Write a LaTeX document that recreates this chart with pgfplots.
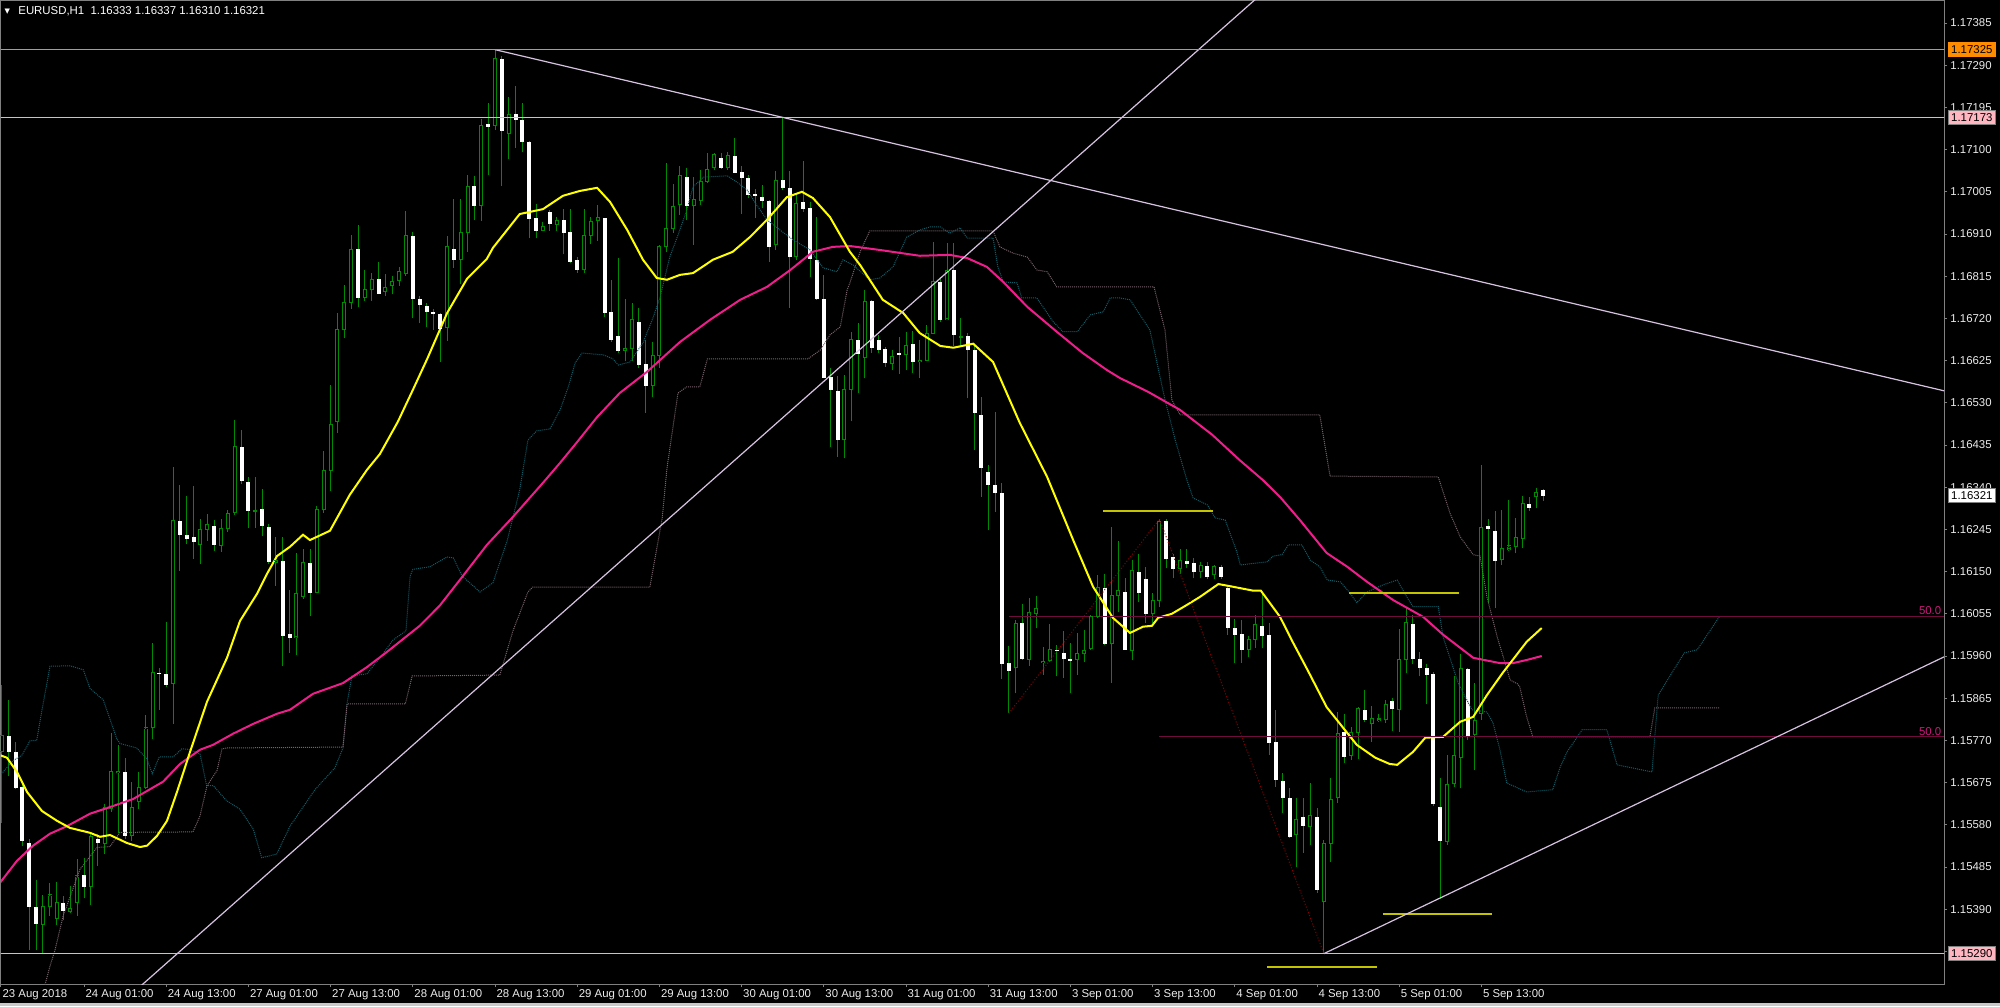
\documentclass[border=0pt]{standalone}
\usepackage{pgfplots}
\pgfplotsset{compat=1.18}
\usepackage{pgfplotstable}
\usepackage{fontspec}
\setmainfont{Liberation Sans}
\newfontfamily\symfont{DejaVu Sans}
\setlength{\fboxsep}{1.2pt}
\setlength{\fboxrule}{0.4pt}
\definecolor{framegray}{RGB}{128,128,128}
\definecolor{ticktext}{RGB}{235,235,235}
\definecolor{cgreen}{RGB}{0,140,0}
\definecolor{mayellow}{RGB}{255,255,0}
\definecolor{mamagenta}{RGB}{240,30,140}
\definecolor{tealdot}{RGB}{15,95,105}
\definecolor{graydot}{RGB}{120,98,108}
\definecolor{fibline}{RGB}{110,12,62}
\definecolor{fibdiag}{RGB}{135,0,0}
\definecolor{fiblabel}{RGB}{205,25,125}
\definecolor{trend}{RGB}{215,195,225}
\definecolor{orangeL}{RGB}{255,140,0}
\definecolor{pinkL}{RGB}{255,182,193}
\definecolor{pinkline}{RGB}{230,180,200}
\definecolor{shorty}{RGB}{195,195,0}
\definecolor{bottomgray}{RGB}{200,200,200}

\pgfplotstableread{
k O H L C d
0 1.15744 1.15895 1.15584 1.15782 1
1 1.15780 1.15861 1.15690 1.15746 0
2 1.15746 1.15767 1.15661 1.15665 0
3 1.15665 1.15677 1.15533 1.15544 0
4 1.15541 1.15548 1.15298 1.15397 0
5 1.15397 1.15456 1.15298 1.15357 0
6 1.15355 1.15422 1.15292 1.15397 1
7 1.15397 1.15449 1.15375 1.15422 1
8 1.15370 1.15451 1.15355 1.15406 1
9 1.15406 1.15420 1.15366 1.15386 0
10 1.15384 1.15442 1.15382 1.15391 1
11 1.15406 1.15503 1.15375 1.15465 1
12 1.15467 1.15505 1.15415 1.15442 0
13 1.15442 1.15559 1.15400 1.15553 1
14 1.15550 1.15559 1.15487 1.15541 0
15 1.15539 1.15627 1.15514 1.15620 1
16 1.15616 1.15787 1.15609 1.15699 1
17 1.15699 1.15760 1.15562 1.15701 1
18 1.15701 1.15731 1.15548 1.15557 0
19 1.15555 1.15677 1.15544 1.15620 1
20 1.15632 1.15699 1.15616 1.15665 1
21 1.15665 1.15827 1.15661 1.15798 1
22 1.15798 1.15990 1.15773 1.15922 1
23 1.15922 1.15933 1.15839 1.15920 0
24 1.15920 1.16037 1.15890 1.15895 0
25 1.15897 1.16386 1.15807 1.16266 1
26 1.16266 1.16345 1.16152 1.16235 0
27 1.16233 1.16320 1.16212 1.16224 0
28 1.16228 1.16343 1.16179 1.16217 0
29 1.16212 1.16269 1.16167 1.16244 1
30 1.16244 1.16280 1.16219 1.16255 1
31 1.16255 1.16266 1.16197 1.16212 0
32 1.16208 1.16269 1.16194 1.16248 1
33 1.16248 1.16289 1.16239 1.16280 1
34 1.16282 1.16492 1.16278 1.16431 1
35 1.16431 1.16469 1.16347 1.16354 0
36 1.16352 1.16363 1.16248 1.16288 0
37 1.16286 1.16363 1.16248 1.16288 1
38 1.16291 1.16336 1.16230 1.16253 0
39 1.16253 1.16257 1.16167 1.16174 0
40 1.16170 1.16228 1.16118 1.16174 1
41 1.16176 1.16228 1.15938 1.16007 0
42 1.16012 1.16109 1.15967 1.16003 0
43 1.16003 1.16191 1.15962 1.16100 1
44 1.16094 1.16201 1.16088 1.16171 1
45 1.16171 1.16201 1.16050 1.16104 0
46 1.16102 1.16298 1.16102 1.16290 1
47 1.16290 1.16421 1.16283 1.16377 1
48 1.16377 1.16571 1.16331 1.16482 1
49 1.16489 1.16732 1.16462 1.16694 1
50 1.16694 1.16795 1.16676 1.16755 1
51 1.16755 1.16907 1.16742 1.16874 1
52 1.16876 1.16930 1.16745 1.16767 0
53 1.16767 1.16828 1.16760 1.16785 1
54 1.16786 1.16823 1.16759 1.16808 1
55 1.16810 1.16846 1.16774 1.16776 0
56 1.16781 1.16821 1.16770 1.16790 1
57 1.16795 1.16815 1.16774 1.16803 1
58 1.16806 1.16836 1.16793 1.16825 1
59 1.16821 1.16961 1.16815 1.16907 1
60 1.16907 1.16915 1.16721 1.16765 0
61 1.16765 1.16770 1.16709 1.16752 0
62 1.16750 1.16754 1.16701 1.16736 0
63 1.16735 1.16742 1.16694 1.16733 0
64 1.16731 1.16733 1.16622 1.16698 0
65 1.16699 1.16905 1.16670 1.16882 1
66 1.16877 1.16989 1.16834 1.16854 0
67 1.16852 1.16989 1.16798 1.16913 1
68 1.16914 1.17042 1.16869 1.17017 1
69 1.17019 1.17040 1.16941 1.16974 0
70 1.16974 1.17170 1.16939 1.17155 1
71 1.17158 1.17204 1.17043 1.17152 0
72 1.17155 1.17325 1.17144 1.17306 1
73 1.17305 1.17310 1.17019 1.17142 0
74 1.17136 1.17218 1.17078 1.17180 1
75 1.17180 1.17244 1.17104 1.17168 0
76 1.17168 1.17206 1.17094 1.17119 0
77 1.17118 1.17120 1.16900 1.16944 0
78 1.16946 1.16978 1.16900 1.16917 0
79 1.16917 1.16938 1.16917 1.16927 1
80 1.16961 1.16964 1.16917 1.16934 0
81 1.16932 1.16948 1.16917 1.16941 1
82 1.16941 1.16966 1.16864 1.16913 0
83 1.16914 1.16966 1.16845 1.16849 0
84 1.16852 1.16859 1.16823 1.16831 0
85 1.16831 1.16966 1.16823 1.16906 1
86 1.16906 1.16949 1.16888 1.16938 1
87 1.16940 1.16975 1.16895 1.16947 1
88 1.16946 1.16946 1.16724 1.16734 0
89 1.16735 1.16807 1.16668 1.16672 0
90 1.16682 1.16855 1.16642 1.16649 0
91 1.16647 1.16764 1.16623 1.16653 1
92 1.16652 1.16754 1.16625 1.16718 1
93 1.16714 1.16743 1.16608 1.16617 0
94 1.16619 1.16672 1.16508 1.16570 0
95 1.16569 1.16666 1.16542 1.16636 1
96 1.16636 1.16886 1.16608 1.16882 1
97 1.16882 1.17069 1.16870 1.16923 1
98 1.16923 1.17023 1.16913 1.16973 1
99 1.16976 1.17062 1.16953 1.17041 1
100 1.17039 1.17058 1.16942 1.16974 0
101 1.16974 1.17038 1.16886 1.16988 1
102 1.16985 1.17054 1.16976 1.17028 1
103 1.17028 1.17092 1.17024 1.17056 1
104 1.17059 1.17092 1.17054 1.17088 1
105 1.17082 1.17093 1.17056 1.17059 0
106 1.17059 1.17094 1.17054 1.17086 1
107 1.17086 1.17127 1.17049 1.17049 0
108 1.17049 1.17062 1.16955 1.17038 0
109 1.17036 1.17043 1.16991 1.17000 0
110 1.17000 1.17011 1.16946 1.16996 0
111 1.16994 1.17021 1.16968 1.16985 0
112 1.16985 1.16987 1.16848 1.16882 0
113 1.16886 1.17051 1.16874 1.17030 1
114 1.17032 1.17174 1.17009 1.17014 0
115 1.17014 1.17051 1.16743 1.16859 0
116 1.16859 1.16998 1.16852 1.16979 1
117 1.16982 1.17075 1.16960 1.16968 0
118 1.16968 1.16983 1.16814 1.16855 0
119 1.16853 1.16949 1.16762 1.16765 0
120 1.16764 1.16818 1.16586 1.16588 0
121 1.16588 1.16608 1.16431 1.16559 0
122 1.16559 1.16590 1.16409 1.16448 0
123 1.16448 1.16593 1.16405 1.16561 1
124 1.16561 1.16690 1.16488 1.16672 1
125 1.16672 1.16709 1.16553 1.16640 0
126 1.16633 1.16783 1.16585 1.16758 1
127 1.16759 1.16762 1.16642 1.16655 0
128 1.16673 1.16683 1.16642 1.16651 0
129 1.16651 1.16656 1.16611 1.16620 0
130 1.16619 1.16649 1.16604 1.16634 1
131 1.16643 1.16678 1.16595 1.16638 0
132 1.16638 1.16690 1.16604 1.16658 1
133 1.16662 1.16692 1.16598 1.16624 0
134 1.16625 1.16672 1.16585 1.16626 1
135 1.16625 1.16705 1.16624 1.16687 1
136 1.16687 1.16893 1.16686 1.16804 1
137 1.16803 1.16814 1.16713 1.16718 0
138 1.16719 1.16889 1.16718 1.16828 1
139 1.16829 1.16889 1.16658 1.16683 0
140 1.16678 1.16720 1.16660 1.16679 1
141 1.16681 1.16688 1.16540 1.16651 0
142 1.16649 1.16664 1.16424 1.16509 0
143 1.16504 1.16544 1.16319 1.16384 0
144 1.16374 1.16390 1.16244 1.16345 0
145 1.16345 1.16509 1.16285 1.16328 0
146 1.16326 1.16350 1.15908 1.15944 0
147 1.15944 1.15983 1.15831 1.15927 0
148 1.15935 1.16040 1.15876 1.16034 1
149 1.16035 1.16077 1.15951 1.15954 0
150 1.15953 1.16090 1.15938 1.16058 1
151 1.16056 1.16095 1.16023 1.16068 1
152 1.15947 1.15980 1.15917 1.15948 1
153 1.15950 1.16032 1.15947 1.15975 1
154 1.15974 1.15985 1.15914 1.15973 0
155 1.15968 1.16017 1.15910 1.15955 0
156 1.15953 1.15990 1.15876 1.15952 0
157 1.15953 1.16011 1.15917 1.15965 1
158 1.15966 1.16019 1.15947 1.15972 1
159 1.15977 1.16052 1.15974 1.16049 1
160 1.16049 1.16143 1.16045 1.16114 1
161 1.16114 1.16144 1.15985 1.15990 0
162 1.15989 1.16251 1.15899 1.16097 1
163 1.16097 1.16218 1.16060 1.16107 1
164 1.16103 1.16135 1.15974 1.15975 0
165 1.15972 1.16176 1.15951 1.16152 1
166 1.16150 1.16190 1.16082 1.16103 0
167 1.16134 1.16160 1.16034 1.16056 0
168 1.16056 1.16101 1.16034 1.16085 1
169 1.16085 1.16268 1.16070 1.16263 1
170 1.16265 1.16268 1.16158 1.16180 0
171 1.16182 1.16190 1.16135 1.16158 0
172 1.16158 1.16200 1.16145 1.16176 1
173 1.16176 1.16200 1.16158 1.16169 0
174 1.16169 1.16180 1.16135 1.16150 0
175 1.16150 1.16172 1.16135 1.16163 1
176 1.16165 1.16172 1.16133 1.16140 0
177 1.16144 1.16165 1.16133 1.16161 1
178 1.16161 1.16165 1.16133 1.16140 0
179 1.16112 1.16120 1.16007 1.16024 0
180 1.16025 1.16043 1.15944 1.16009 0
181 1.16011 1.16041 1.15945 1.15974 0
182 1.15975 1.16004 1.15957 1.15998 1
183 1.15998 1.16052 1.15979 1.16030 1
184 1.16030 1.16101 1.15977 1.16007 0
185 1.16007 1.16034 1.15737 1.15766 0
186 1.15767 1.15839 1.15666 1.15683 0
187 1.15681 1.15697 1.15607 1.15642 0
188 1.15642 1.15662 1.15550 1.15553 0
189 1.15559 1.15640 1.15486 1.15593 1
190 1.15597 1.15640 1.15517 1.15578 0
191 1.15576 1.15674 1.15535 1.15601 1
192 1.15598 1.15617 1.15427 1.15435 0
193 1.15407 1.15545 1.15290 1.15539 1
194 1.15539 1.15685 1.15497 1.15638 1
195 1.15642 1.15835 1.15629 1.15786 1
196 1.15788 1.15830 1.15719 1.15734 0
197 1.15735 1.15801 1.15726 1.15788 1
198 1.15788 1.15846 1.15728 1.15842 1
199 1.15840 1.15884 1.15812 1.15818 0
200 1.15809 1.15848 1.15767 1.15819 1
201 1.15818 1.15830 1.15812 1.15819 1
202 1.15818 1.15861 1.15809 1.15850 1
203 1.15859 1.15865 1.15791 1.15842 0
204 1.15840 1.16020 1.15790 1.15953 1
205 1.15953 1.16070 1.15921 1.16036 1
206 1.16034 1.16052 1.15942 1.15954 0
207 1.15954 1.15968 1.15914 1.15935 0
208 1.15934 1.15942 1.15852 1.15919 0
209 1.15920 1.15923 1.15622 1.15629 0
210 1.15622 1.15685 1.15412 1.15544 0
211 1.15542 1.15737 1.15535 1.15671 1
212 1.15672 1.15914 1.15666 1.15737 1
213 1.15732 1.15965 1.15662 1.15931 1
214 1.15932 1.15934 1.15771 1.15780 0
215 1.15784 1.15900 1.15704 1.15815 1
216 1.15831 1.16390 1.15816 1.16250 1
217 1.16253 1.16268 1.16079 1.16246 0
218 1.16242 1.16287 1.16068 1.16175 0
219 1.16178 1.16289 1.16165 1.16203 1
220 1.16201 1.16311 1.16197 1.16208 1
221 1.16206 1.16270 1.16191 1.16226 1
222 1.16225 1.16320 1.16203 1.16304 1
223 1.16302 1.16317 1.16287 1.16295 0
224 1.16320 1.16339 1.16293 1.16328 1
225 1.16333 1.16337 1.16310 1.16321 0
}\candles

\begin{document}
\begin{tikzpicture}[font=\fontsize{5.7pt}{6.5pt}\selectfont]
\fill[black] (0,0) rectangle (1000pt,-503pt);
\fill[bottomgray] (0,-501.5pt) rectangle (1000pt,-503pt);
\path[use as bounding box] (0,0) rectangle (1000pt,-503pt);
\node[anchor=center, text=white, inner sep=0pt, font=\symfont\fontsize{3.5pt}{4pt}\selectfont] at (3.6pt,-5.6pt) {▼};
\node[anchor=west, text=white, inner sep=0pt] at (9pt,-5.6pt) {EURUSD,H1\ \ 1.16333 1.16337 1.16310 1.16321};
\begin{axis}[
  at={(0.5pt,-0.5pt)}, anchor=north west,
  scale only axis, width=971.5pt, height=491.5pt,
  xmin=-0.124, xmax=283.53, ymin=1.152216, ymax=1.1743455,
  axis line style={draw=framegray, line width=0.5pt},
  tick align=outside, major tick length=1.5pt,
  every tick/.style={draw=framegray, line width=0.5pt},
  xtick pos=left, ytick pos=right, yticklabel pos=right,
  scaled y ticks=false, scaled x ticks=false,
  ytick={1.15295,1.15390,1.15485,1.15580,1.15675,1.15770,1.15865,1.15960,1.16055,1.16150,1.16245,1.16340,1.16435,1.16530,1.16625,1.16720,1.16815,1.16910,1.17005,1.17100,1.17195,1.17290,1.17385},
  yticklabels={1.15295,1.15390,1.15485,1.15580,1.15675,1.15770,1.15865,1.15960,1.16055,1.16150,1.16245,1.16340,1.16435,1.16530,1.16625,1.16720,1.16815,1.16910,1.17005,1.17100,1.17195,1.17290,1.17385},
  xtick={-0.124,12,24,36,48,60,72,84,96,108,120,132,144,156,168,180,192,204,216},
  xticklabels={23 Aug 2018,24 Aug 01:00,24 Aug 13:00,27 Aug 01:00,27 Aug 13:00,28 Aug 01:00,28 Aug 13:00,29 Aug 01:00,29 Aug 13:00,30 Aug 01:00,30 Aug 13:00,31 Aug 01:00,31 Aug 13:00,3 Sep 01:00,3 Sep 13:00,4 Sep 01:00,4 Sep 13:00,5 Sep 01:00,5 Sep 13:00},
  xticklabel style={anchor=north west, inner sep=0pt, text=ticktext, xshift=0.6pt, yshift=-1.2pt},
  yticklabel style={anchor=west, inner sep=0pt, text=ticktext, xshift=1.5pt},
  extra y ticks={1.17325,1.17173,1.16321,1.15290},
  extra y tick labels={\fcolorbox{orangeL}{orangeL}{\textcolor{black}{1.17325}},\fcolorbox{framegray}{pinkL}{\textcolor{black}{1.17173}},\fcolorbox{framegray}{white}{\textcolor{black}{1.16321}},\fcolorbox{framegray}{pinkL}{\textcolor{black}{1.15290}}},
  extra y tick style={major tick length=0pt, yticklabel style={xshift=0.3pt}},
]
% wicks
\addplot[draw=none, mark=none, forget plot, error bars/.cd, y dir=plus, y explicit, error mark=none, error bar style={draw=cgreen, line width=0.5pt}]
  table[x=k, y=L, y error plus expr={\thisrow{H}-\thisrow{L}}] {\candles};
% bear bodies (white)
\addplot[draw=none, mark=none, forget plot, error bars/.cd, y dir=both, y explicit, error mark=none, error bar style={draw=white, line width=2pt}]
  table[x=k, y expr={(\thisrow{O}+\thisrow{C})/2}, y error expr={abs(\thisrow{C}-\thisrow{O})/2*(1-\thisrow{d})}] {\candles};
% bull bodies (green outline, black inside)
\addplot[draw=none, mark=none, forget plot, error bars/.cd, y dir=both, y explicit, error mark=none, error bar style={draw=cgreen, line width=2pt}]
  table[x=k, y expr={(\thisrow{O}+\thisrow{C})/2}, y error expr={abs(\thisrow{C}-\thisrow{O})/2*\thisrow{d}}] {\candles};
\addplot[draw=none, mark=none, forget plot, error bars/.cd, y dir=both, y explicit, error mark=none, error bar style={draw=black, line width=1pt}]
  table[x=k, y expr={(\thisrow{O}+\thisrow{C})/2}, y error expr={abs(\thisrow{C}-\thisrow{O})/2*\thisrow{d}}] {\candles};
\addplot[only marks, mark=-, mark size=1pt, mark options={draw=cgreen, line width=0.5pt}, forget plot, restrict y to domain=1:2]
  table[x=k, y expr={\thisrow{O}-10*(1-\thisrow{d})}] {\candles};
\addplot[only marks, mark=-, mark size=1pt, mark options={draw=cgreen, line width=0.5pt}, forget plot, restrict y to domain=1:2]
  table[x=k, y expr={\thisrow{C}-10*(1-\thisrow{d})}] {\candles};
\addplot[only marks, mark=-, mark size=1pt, mark options={draw=white, line width=0.5pt}, forget plot, restrict y to domain=1:2]
  table[x=k, y expr={\thisrow{C}-10*\thisrow{d}}] {\candles};

% Ichimoku spans
\addplot[tealdot, line width=0.5pt, dash pattern=on 0.5pt off 0.5pt, mark=none] coordinates {
(-0.27,1.15691) (1.67,1.15725) (2.9,1.15736) (4.11,1.15769) (5.09,1.15770) (5.82,1.15835) (7.03,1.15937) (9.95,1.15938) (11.89,1.15929) (12.87,1.15887) (14.81,1.15861) (16.77,1.15774) (17.25,1.15763) (19.69,1.15753) (21.15,1.15729) (21.96,1.15695) (22.99,1.15733) (25.03,1.15733) (26.26,1.15751) (27.22,1.15750) (28.93,1.15740) (29.9,1.15668) (30.87,1.15668) (32.83,1.15634) (34.77,1.15615) (36.71,1.15570) (37.93,1.15506) (40.12,1.15514) (42.07,1.15577) (45.7,1.15659) (48.6,1.15708) (49.8,1.15753) (50.4,1.15854) (51.1,1.15915) (53.3,1.15920) (55.2,1.15956) (57.1,1.15996) (59.0,1.16017) (59.6,1.16140) (60.0,1.16155) (62.5,1.16161) (65.0,1.16183) (65.9,1.16181) (67.2,1.16140) (69.8,1.16104) (71.7,1.16125) (73.8,1.16221) (75.6,1.16334) (76.8,1.16446) (78.1,1.16467) (80.0,1.16471) (81.5,1.16514) (82.7,1.16566) (83.7,1.16620) (84.7,1.16642) (87.8,1.16638) (89.2,1.16629) (90.0,1.16615) (91.7,1.16622) (93.6,1.16665) (95.1,1.16723) (96.1,1.16768) (97.5,1.16858) (98.6,1.16903) (100.0,1.16964) (100.9,1.17016) (102.4,1.17038) (105.9,1.17041) (107.3,1.17027) (108.8,1.17009) (110.2,1.16975) (111.7,1.16942) (113.6,1.16919) (115.5,1.16897) (118.0,1.16874) (119.9,1.16834) (121.9,1.16825) (122.8,1.16852) (124.3,1.16840) (126.7,1.16807) (128.2,1.16811) (130.1,1.16836) (132.1,1.16903) (134.0,1.16919) (135.5,1.16926) (137.0,1.16926) (138.4,1.16912) (139.9,1.16924) (140.9,1.16901) (144.7,1.16901) (145.4,1.16836) (146.2,1.16802) (148.2,1.16800) (148.9,1.16766) (151.1,1.16766) (153.5,1.16712) (154.9,1.16690) (157.0,1.16690) (158.9,1.16728) (160.8,1.16735) (161.8,1.16766) (163.2,1.16766) (164.7,1.16762) (167.6,1.16694) (169.8,1.16537) (171.3,1.16446) (173.0,1.16356) (173.9,1.16316) (176.0,1.16300) (177.1,1.16271) (178.6,1.16266) (180.3,1.16194) (180.8,1.16165) (184.7,1.16172) (185.6,1.16185) (186.9,1.16188) (187.8,1.16210) (189.8,1.16210) (191.0,1.16176) (192.4,1.16161) (193.5,1.16131) (195.4,1.16127) (196.8,1.16102) (197.8,1.16080) (199.3,1.16104) (201.6,1.16120) (203.7,1.16131) (205.1,1.16093) (206.0,1.16071) (209.7,1.16071) (210.4,1.16003) (212.6,1.15899) (214.6,1.15839) (216.8,1.15834) (217.7,1.15809) (218.7,1.15749) (219.7,1.15674) (221.3,1.15663) (222.6,1.15654) (226.4,1.15659) (227.5,1.15710) (228.5,1.15744) (230.7,1.15794) (234.3,1.15794) (235.8,1.15715) (240.9,1.15699) (241.8,1.15872) (245.6,1.15967) (247.5,1.15974) (250.8,1.16050)
};
\addplot[graydot, line width=0.5pt, dash pattern=on 0.5pt off 0.5pt, mark=none] coordinates {
(6.3,1.15220) (7.03,1.15262) (7.76,1.15298) (8.93,1.15374) (11.41,1.15480) (13.89,1.15529) (15.79,1.15531) (17.25,1.15563) (27.9,1.15564) (28.93,1.15600) (29.95,1.15668) (31.41,1.15702) (32.14,1.15751) (32.87,1.15753) (49.8,1.15755) (50.4,1.15852) (58.9,1.15852) (59.9,1.15915) (72.7,1.15917) (74.6,1.16016) (76.8,1.16104) (77.5,1.16115) (94.6,1.16115) (96.4,1.16270) (97.1,1.16383) (98.7,1.16552) (100.0,1.16566) (101.9,1.16566) (103.0,1.16629) (117.7,1.16629) (119.5,1.16649) (120.9,1.16683) (122.4,1.16701) (123.4,1.16784) (123.8,1.16800) (125.3,1.16870) (126.7,1.16917) (144.7,1.16917) (145.7,1.16881) (147.6,1.16867) (149.7,1.16858) (151.1,1.16829) (152.6,1.16825) (154.0,1.16791) (168.2,1.16791) (169.8,1.16694) (170.8,1.16537) (172.0,1.16503) (192.4,1.16503) (193.9,1.16365) (209.7,1.16363) (211.4,1.16282) (212.9,1.16228) (214.8,1.16188) (215.8,1.16185) (216.8,1.16093) (218.3,1.16003) (220.2,1.15906) (221.3,1.15897) (221.6,1.15890) (222.6,1.15823) (223.5,1.15778) (240.6,1.15778) (241.3,1.15843) (250.8,1.15843)
};
% moving averages
\addplot[mamagenta, line width=1pt, mark=none] coordinates {
(-0.3,1.15449) (2.21,1.15499) (4.55,1.15533) (7.03,1.15560) (9.51,1.15577) (12.87,1.15605) (15.79,1.15620) (19.15,1.15638) (23.53,1.15677) (26.01,1.15717) (28.93,1.15749) (30.83,1.15760) (33.74,1.15785) (36.66,1.15807) (40.17,1.15830) (42.07,1.15839) (45.43,1.15875) (49.8,1.15899) (53.3,1.15935) (56.2,1.15969) (61.0,1.16028) (63.9,1.16073) (67.3,1.16140) (70.8,1.16210) (74.6,1.16273) (79.0,1.16350) (81.5,1.16395) (84.0,1.16442) (86.9,1.16498) (90.2,1.16552) (94.2,1.16600) (99.0,1.16667) (103.4,1.16717) (107.8,1.16762) (111.7,1.16791) (115.1,1.16829) (118.4,1.16870) (121.3,1.16881) (123.8,1.16883) (128.2,1.16874) (134.0,1.16861) (138.4,1.16863) (140.9,1.16856) (143.8,1.16836) (146.2,1.16802) (149.7,1.16746) (154.0,1.16690) (157.8,1.16642) (161.3,1.16604) (163.2,1.16586) (167.3,1.16555) (172.0,1.16514) (176.7,1.16458) (180.7,1.16401) (184.1,1.16356) (186.6,1.16318) (189.5,1.16266) (193.4,1.16192) (196.4,1.16161) (199.3,1.16127) (203.1,1.16086) (207.5,1.16048) (210.4,1.16008) (214.8,1.15956) (218.7,1.15944) (220.6,1.15944) (222.6,1.15951) (224.8,1.15960)
};
\addplot[mayellow, line width=1pt, mark=none] coordinates {
(-0.3,1.15737) (0.75,1.15731) (2.21,1.15699) (3.67,1.15654) (5.86,1.15611) (8.05,1.15589) (9.95,1.15573) (12.87,1.15562) (14.33,1.15553) (15.79,1.15557) (18.27,1.15539) (20.17,1.15530) (21.19,1.15533) (22.65,1.15555) (24.11,1.15589) (25.57,1.15654) (27.47,1.15744) (29.95,1.15857) (32.87,1.15956) (34.77,1.16039) (37.25,1.16100) (38.71,1.16145) (40.17,1.16185) (42.07,1.16206) (43.96,1.16233) (44.98,1.16221) (47.9,1.16242) (50.8,1.16323) (53.3,1.16379) (55.2,1.16415) (57.8,1.16487) (60.0,1.16559) (62.1,1.16629) (65.0,1.16732) (67.9,1.16809) (70.8,1.16854) (71.7,1.16879) (75.6,1.16955) (79.0,1.16966) (81.9,1.16996) (84.4,1.17007) (86.9,1.17014) (88.8,1.16982) (91.3,1.16919) (93.6,1.16852) (95.6,1.16811) (97.1,1.16807) (99.0,1.16818) (100.9,1.16822) (103.8,1.16852) (106.7,1.16870) (109.2,1.16903) (111.7,1.16942) (114.6,1.16993) (116.8,1.17005) (118.4,1.16991) (120.9,1.16948) (123.8,1.16870) (125.3,1.16840) (128.6,1.16762) (131.6,1.16732) (134.0,1.16687) (137.0,1.16658) (138.9,1.16654) (141.8,1.16663) (144.7,1.16622) (148.6,1.16485) (152.6,1.16363) (156.4,1.16221) (159.3,1.16116) (162.2,1.16046) (164.7,1.16012) (166.6,1.16026) (167.9,1.16028) (168.8,1.16046) (170.8,1.16055) (173.0,1.16075) (174.9,1.16093) (177.6,1.16122) (179.7,1.16116) (182.7,1.16107) (183.8,1.16107) (186.6,1.16048) (188.5,1.15990) (190.7,1.15926) (193.4,1.15845) (194.9,1.15816) (197.8,1.15760) (200.5,1.15731) (202.6,1.15717) (203.7,1.15715) (206.0,1.15744) (207.8,1.15776) (210.4,1.15778) (212.9,1.15812) (214.8,1.15823) (216.8,1.15872) (219.1,1.15922) (222.6,1.15992) (224.8,1.16023)
};
% fibonacci
\addplot[fibline, line width=0.5pt, mark=none] coordinates {(147,1.16050) (283.53,1.16050)};
\addplot[fibline, line width=0.5pt, mark=none] coordinates {(169,1.15779) (283.53,1.15779)};
\addplot[fibdiag, line width=0.5pt, dash pattern=on 0.5pt off 1pt, mark=none] coordinates {(147,1.15831) (169,1.16268) (193,1.15290)};
\node[anchor=south east, inner sep=0.4pt, text=fiblabel] at (axis cs:283.3,1.16050) {50.0};
\node[anchor=south east, inner sep=0.4pt, text=fiblabel] at (axis cs:283.3,1.15779) {50.0};
% short yellow levels
\addplot[shorty, line width=1pt, mark=none] coordinates {(160.8,1.16287) (176.8,1.16287)};
\addplot[shorty, line width=1pt, mark=none] coordinates {(196.7,1.16102) (212.7,1.16102)};
\addplot[shorty, line width=1pt, mark=none] coordinates {(201.6,1.15379) (217.5,1.15379)};
\addplot[shorty, line width=1pt, mark=none] coordinates {(184.7,1.15259) (200.8,1.15259)};
% trend lines
\addplot[trend, line width=0.6pt, mark=none] coordinates {(72,1.17325) (283.53,1.16557)};
\addplot[trend, line width=0.6pt, mark=none] coordinates {(14.33,1.15136) (189.5,1.17527)};
\addplot[trend, line width=0.6pt, mark=none] coordinates {(193,1.15290) (283.53,1.15958)};
% horizontal levels
\addplot[orangeL, line width=0.6pt, mark=none] coordinates {(-1,1.17325) (290,1.17325)};
\addplot[pinkline, line width=0.6pt, mark=none] coordinates {(-1,1.17173) (290,1.17173)};
\addplot[pinkline, line width=0.6pt, mark=none] coordinates {(-1,1.15290) (290,1.15290)};
\end{axis}
\end{tikzpicture}
\end{document}
